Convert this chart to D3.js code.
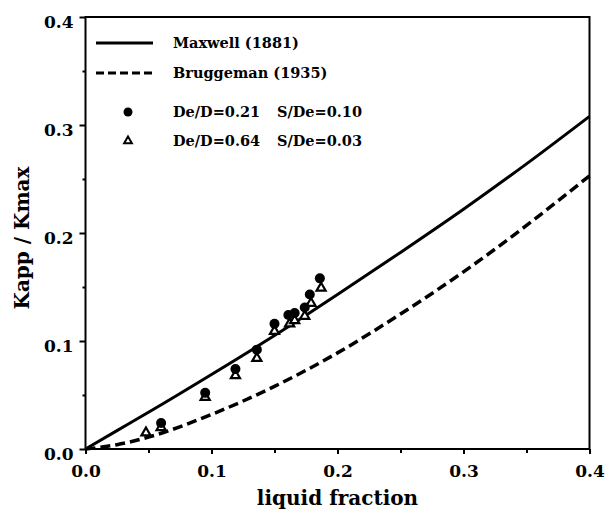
<!DOCTYPE html>
<meta charset="utf-8">
<script src="https://cdn.jsdelivr.net/npm/d3@7"></script>
<style>
body { margin: 0; background: #fff; }
svg text { font-family: "DejaVu Serif", serif; font-weight: bold; fill: #000; }
.axis path { display: none; }
.axis line { stroke: #000; stroke-width: 2; }
.axis text { font-size: 17px; }
</style>
<body>
<div id="chart"></div>
<script>
// ---------- data ----------
const curveX      = [0, 0.025, 0.05, 0.1, 0.15, 0.2, 0.25, 0.3, 0.35, 0.4];
const maxwell     = [0, 0.017, 0.034, 0.069, 0.105, 0.143, 0.182, 0.222, 0.264, 0.308];
const bruggeman   = [0, 0.004, 0.011, 0.032, 0.058, 0.089, 0.125, 0.164, 0.207, 0.253];

const circX = [0.060, 0.095, 0.119, 0.136, 0.150, 0.161, 0.166, 0.174, 0.178, 0.186];
const circY = [0.024, 0.052, 0.074, 0.092, 0.116, 0.124, 0.126, 0.131, 0.143, 0.158];
const triX  = [0.048, 0.060, 0.095, 0.119, 0.136, 0.150, 0.162, 0.166, 0.174, 0.179, 0.187];
const triY  = [0.015, 0.020, 0.048, 0.068, 0.084, 0.109, 0.116, 0.119, 0.123, 0.135, 0.149];

const majorTicks = [0, 0.1, 0.2, 0.3, 0.4];
const minorTicks = [0.05, 0.15, 0.25, 0.35];

const legendItems = [
  {type: "solid",  label: "Maxwell (1881)"},
  {type: "dashed", label: "Bruggeman (1935)"},
  {type: "circle", label: "De/D=0.21", label2: "S/De=0.10"},
  {type: "tri",    label: "De/D=0.64", label2: "S/De=0.03"}
];

// ---------- layout ----------
const W = 615, H = 514;
const m = {left: 85.5, top: 17, right: 25.5, bottom: 65};
const w = W - m.left - m.right, h = H - m.top - m.bottom;

const svg = d3.select("#chart").append("svg")
  .attr("width", W).attr("height", H);
const g = svg.append("g").attr("transform", `translate(${m.left},${m.top})`);

const x = d3.scaleLinear().domain([0, 0.4]).range([0, w]);
const y = d3.scaleLinear().domain([0, 0.4]).range([h, 0]);

// minor ticks
g.append("g").attr("class", "axis")
  .attr("transform", `translate(0,${h})`)
  .call(d3.axisBottom(x).tickValues(minorTicks).tickSize(4).tickFormat(""));
g.append("g").attr("class", "axis")
  .call(d3.axisLeft(y).tickValues(minorTicks).tickSize(3).tickFormat(""));

// major ticks
g.append("g").attr("class", "axis")
  .attr("transform", `translate(0,${h})`)
  .call(d3.axisBottom(x).tickValues(majorTicks).tickSize(5).tickSizeOuter(0)
        .tickPadding(11).tickFormat(d3.format(".1f")));
g.append("g").attr("class", "axis")
  .call(d3.axisLeft(y).tickValues(majorTicks).tickSize(6).tickSizeOuter(0)
        .tickPadding(6).tickFormat(d3.format(".1f")))
  .selectAll("text").attr("dy", "0.62em");

// frame
g.append("rect")
  .attr("width", w).attr("height", h)
  .attr("fill", "none").attr("stroke", "#000").attr("stroke-width", 2);

// curves
const line = d3.line()
  .x(d => x(d[0])).y(d => y(d[1]))
  .curve(d3.curveMonotoneX);

g.append("path")
  .datum(curveX.map((v, i) => [v, maxwell[i]]))
  .attr("d", line).attr("fill", "none")
  .attr("stroke", "#000").attr("stroke-width", 3);

g.append("path")
  .datum(curveX.map((v, i) => [v, bruggeman[i]]))
  .attr("d", line).attr("fill", "none")
  .attr("stroke", "#000").attr("stroke-width", 3.5)
  .attr("stroke-dasharray", "10,5");

// points
const tri = d3.symbol().type(d3.symbolTriangle).size(36);
g.selectAll(".tri")
  .data(triX.map((v, i) => [v, triY[i]]))
  .join("path")
  .attr("class", "tri")
  .attr("d", tri)
  .attr("transform", d => `translate(${x(d[0])},${y(d[1])})`)
  .attr("fill", "#fff").attr("stroke", "#000").attr("stroke-width", 2.2);

g.selectAll(".circ")
  .data(circX.map((v, i) => [v, circY[i]]))
  .join("circle")
  .attr("class", "circ")
  .attr("cx", d => x(d[0])).attr("cy", d => y(d[1]))
  .attr("r", 5).attr("fill", "#000");

// legend
const rowY = [43, 73, 112, 141];
const leg = svg.append("g");
legendItems.forEach((d, i) => {
  const yy = rowY[i];
  if (d.type === "solid") {
    leg.append("line").attr("x1", 96).attr("x2", 153).attr("y1", yy).attr("y2", yy)
      .attr("stroke", "#000").attr("stroke-width", 3);
  } else if (d.type === "dashed") {
    leg.append("line").attr("x1", 96).attr("x2", 153).attr("y1", yy).attr("y2", yy)
      .attr("stroke", "#000").attr("stroke-width", 3).attr("stroke-dasharray", "8,4");
  } else if (d.type === "circle") {
    leg.append("circle").attr("cx", 128).attr("cy", yy).attr("r", 4.5).attr("fill", "#000");
  } else {
    leg.append("path").attr("d", d3.symbol().type(d3.symbolTriangle).size(26))
      .attr("transform", `translate(128,${yy})`)
      .attr("fill", "#fff").attr("stroke", "#000").attr("stroke-width", 2);
  }
  leg.append("text").attr("x", 173).attr("y", yy).attr("dy", "0.36em")
    .style("font-size", "14.5px").text(d.label);
  if (d.label2) {
    leg.append("text").attr("x", 277).attr("y", yy).attr("dy", "0.36em")
      .style("font-size", "14.5px").text(d.label2);
  }
});

// axis titles
svg.append("text")
  .attr("x", m.left + w / 2).attr("y", 505)
  .attr("text-anchor", "middle")
  .style("font-size", "20px")
  .text("liquid fraction");

svg.append("text")
  .attr("transform", "translate(29,238) rotate(-90)")
  .attr("text-anchor", "middle")
  .style("font-size", "20px")
  .text("Kapp / Kmax");
</script>
</body>
